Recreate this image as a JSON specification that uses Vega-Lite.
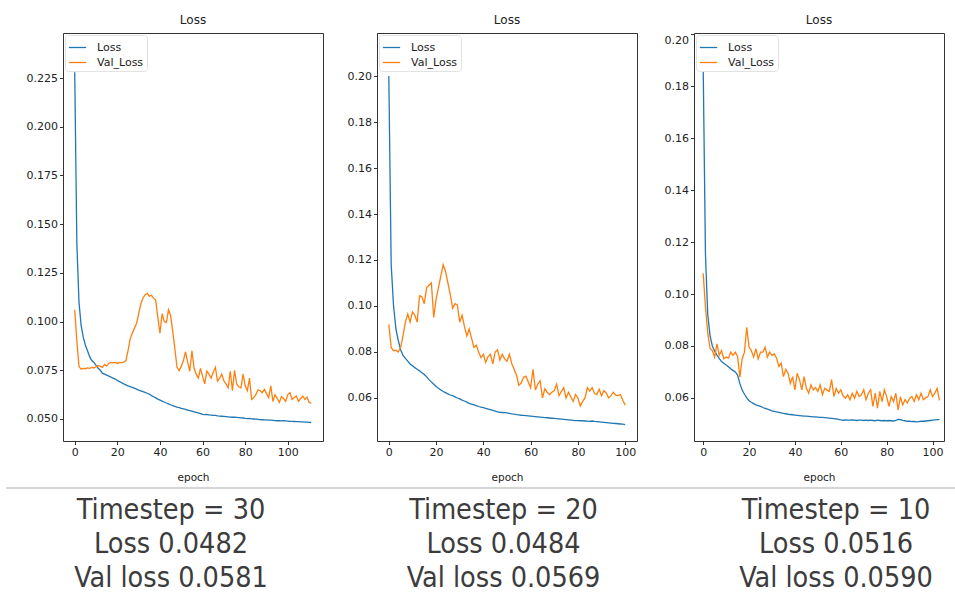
{
"$schema": "https://vega.github.io/schema/vega-lite/v6.json",
"padding": {"left": 0, "top": 13, "right": 0, "bottom": 0},
"background": "white",
"config": {
  "font": "DejaVu Sans",
  "view": {"stroke": "#333", "strokeWidth": 1},
  "title": {"fontSize": 12, "fontWeight": "normal", "color": "#222", "offset": 6},
  "axis": {"grid": false, "domain": false, "ticks": true, "tickSize": 3.5, "tickColor": "#333", "labelFontSize": 11, "labelColor": "#222", "labelPadding": 2, "titleFontSize": 10.5, "titleFontWeight": "normal", "titleColor": "#222"},
  "legend": {"orient": "top-left", "offset": 2, "padding": 3, "strokeColor": "#e2e2e2", "cornerRadius": 3, "fillColor": "white", "symbolType": "stroke", "symbolSize": 300, "symbolStrokeWidth": 1.5, "labelFontSize": 11, "labelColor": "#222", "rowPadding": 0, "labelOffset": 10},
  "line": {"strokeWidth": 1.3}
},
"datasets": {
"t30": [
{"e":0,"Loss":0.228,"Val_Loss":0.106},{"e":1,"Loss":0.140,"Val_Loss":0.090},{"e":2,"Loss":0.110,"Val_Loss":0.077},{"e":3,"Loss":0.098,"Val_Loss":0.0755},{"e":4,"Loss":0.092,"Val_Loss":0.076},{"e":5,"Loss":0.088,"Val_Loss":0.0758},{"e":6,"Loss":0.085,"Val_Loss":0.0762},{"e":7,"Loss":0.082,"Val_Loss":0.076},{"e":8,"Loss":0.080,"Val_Loss":0.0765},{"e":9,"Loss":0.079,"Val_Loss":0.0762},
{"e":10,"Loss":0.0775,"Val_Loss":0.0768},{"e":11,"Loss":0.076,"Val_Loss":0.0775},{"e":12,"Loss":0.075,"Val_Loss":0.077},{"e":13,"Loss":0.0735,"Val_Loss":0.0765},{"e":14,"Loss":0.073,"Val_Loss":0.078},{"e":15,"Loss":0.0725,"Val_Loss":0.0772},{"e":16,"Loss":0.072,"Val_Loss":0.0785},{"e":17,"Loss":0.0715,"Val_Loss":0.079},{"e":18,"Loss":0.071,"Val_Loss":0.0788},{"e":19,"Loss":0.0705,"Val_Loss":0.079},
{"e":20,"Loss":0.0698,"Val_Loss":0.0785},{"e":21,"Loss":0.0692,"Val_Loss":0.079},{"e":22,"Loss":0.0686,"Val_Loss":0.0788},{"e":23,"Loss":0.068,"Val_Loss":0.0792},{"e":24,"Loss":0.0675,"Val_Loss":0.080},{"e":25,"Loss":0.067,"Val_Loss":0.085},{"e":26,"Loss":0.0666,"Val_Loss":0.091},{"e":27,"Loss":0.0662,"Val_Loss":0.094},{"e":28,"Loss":0.0658,"Val_Loss":0.0965},{"e":29,"Loss":0.0653,"Val_Loss":0.099},
{"e":30,"Loss":0.0648,"Val_Loss":0.104},{"e":31,"Loss":0.0644,"Val_Loss":0.109},{"e":32,"Loss":0.064,"Val_Loss":0.112},{"e":33,"Loss":0.0636,"Val_Loss":0.1138},{"e":34,"Loss":0.0632,"Val_Loss":0.1145},{"e":35,"Loss":0.0628,"Val_Loss":0.113},{"e":36,"Loss":0.062,"Val_Loss":0.1135},{"e":37,"Loss":0.0614,"Val_Loss":0.112},{"e":38,"Loss":0.0608,"Val_Loss":0.111},{"e":39,"Loss":0.0602,"Val_Loss":0.102},
{"e":40,"Loss":0.0597,"Val_Loss":0.094},{"e":41,"Loss":0.0592,"Val_Loss":0.104},{"e":42,"Loss":0.0587,"Val_Loss":0.100},{"e":43,"Loss":0.0582,"Val_Loss":0.0995},{"e":44,"Loss":0.0578,"Val_Loss":0.106},{"e":45,"Loss":0.0573,"Val_Loss":0.103},{"e":46,"Loss":0.0569,"Val_Loss":0.095},{"e":47,"Loss":0.0565,"Val_Loss":0.086},{"e":48,"Loss":0.0561,"Val_Loss":0.0765},{"e":49,"Loss":0.0558,"Val_Loss":0.0748},
{"e":50,"Loss":0.0555,"Val_Loss":0.077},{"e":51,"Loss":0.0552,"Val_Loss":0.080},{"e":52,"Loss":0.0549,"Val_Loss":0.0845},{"e":53,"Loss":0.0546,"Val_Loss":0.079},{"e":54,"Loss":0.0543,"Val_Loss":0.0745},{"e":55,"Loss":0.054,"Val_Loss":0.085},{"e":56,"Loss":0.0537,"Val_Loss":0.076},{"e":57,"Loss":0.0534,"Val_Loss":0.073},{"e":58,"Loss":0.0531,"Val_Loss":0.071},{"e":59,"Loss":0.0528,"Val_Loss":0.076},
{"e":60,"Loss":0.0524,"Val_Loss":0.072},{"e":61,"Loss":0.0522,"Val_Loss":0.068},{"e":62,"Loss":0.0523,"Val_Loss":0.0745},{"e":63,"Loss":0.0521,"Val_Loss":0.073},{"e":64,"Loss":0.052,"Val_Loss":0.071},{"e":65,"Loss":0.0519,"Val_Loss":0.074},{"e":66,"Loss":0.0518,"Val_Loss":0.0765},{"e":67,"Loss":0.0516,"Val_Loss":0.0695},{"e":68,"Loss":0.0515,"Val_Loss":0.071},{"e":69,"Loss":0.0514,"Val_Loss":0.073},
{"e":70,"Loss":0.0513,"Val_Loss":0.0695},{"e":71,"Loss":0.0512,"Val_Loss":0.068},{"e":72,"Loss":0.0511,"Val_Loss":0.066},{"e":73,"Loss":0.051,"Val_Loss":0.0745},{"e":74,"Loss":0.0509,"Val_Loss":0.0645},{"e":75,"Loss":0.0509,"Val_Loss":0.075},{"e":76,"Loss":0.0508,"Val_Loss":0.068},{"e":77,"Loss":0.0507,"Val_Loss":0.0665},{"e":78,"Loss":0.0506,"Val_Loss":0.066},{"e":79,"Loss":0.0505,"Val_Loss":0.073},
{"e":80,"Loss":0.0503,"Val_Loss":0.067},{"e":81,"Loss":0.0502,"Val_Loss":0.0645},{"e":82,"Loss":0.0503,"Val_Loss":0.071},{"e":83,"Loss":0.0501,"Val_Loss":0.060},{"e":84,"Loss":0.05,"Val_Loss":0.061},{"e":85,"Loss":0.0499,"Val_Loss":0.0625},{"e":86,"Loss":0.0498,"Val_Loss":0.065},{"e":87,"Loss":0.0497,"Val_Loss":0.0645},{"e":88,"Loss":0.0496,"Val_Loss":0.0635},{"e":89,"Loss":0.0495,"Val_Loss":0.0652},
{"e":90,"Loss":0.0495,"Val_Loss":0.063},{"e":91,"Loss":0.0494,"Val_Loss":0.061},{"e":92,"Loss":0.0494,"Val_Loss":0.067},{"e":93,"Loss":0.0493,"Val_Loss":0.059},{"e":94,"Loss":0.0492,"Val_Loss":0.0625},{"e":95,"Loss":0.0491,"Val_Loss":0.0605},{"e":96,"Loss":0.0491,"Val_Loss":0.0585},{"e":97,"Loss":0.049,"Val_Loss":0.0615},{"e":98,"Loss":0.0491,"Val_Loss":0.0605},{"e":99,"Loss":0.049,"Val_Loss":0.059},
{"e":100,"Loss":0.0489,"Val_Loss":0.0625},{"e":101,"Loss":0.0488,"Val_Loss":0.0635},{"e":102,"Loss":0.0488,"Val_Loss":0.060},{"e":103,"Loss":0.0487,"Val_Loss":0.061},{"e":104,"Loss":0.0486,"Val_Loss":0.0618},{"e":105,"Loss":0.0486,"Val_Loss":0.059},{"e":106,"Loss":0.0485,"Val_Loss":0.0605},{"e":107,"Loss":0.0485,"Val_Loss":0.0618},{"e":108,"Loss":0.0484,"Val_Loss":0.060},{"e":109,"Loss":0.0484,"Val_Loss":0.0612},
{"e":110,"Loss":0.0483,"Val_Loss":0.0585},{"e":111,"Loss":0.0482,"Val_Loss":0.0581}
],
"t20": [
{"e":0,"Loss":0.200,"Val_Loss":0.092},{"e":1,"Loss":0.118,"Val_Loss":0.082},{"e":2,"Loss":0.100,"Val_Loss":0.0805},{"e":3,"Loss":0.090,"Val_Loss":0.0808},{"e":4,"Loss":0.085,"Val_Loss":0.080},{"e":5,"Loss":0.081,"Val_Loss":0.082},{"e":6,"Loss":0.0785,"Val_Loss":0.087},{"e":7,"Loss":0.0772,"Val_Loss":0.093},{"e":8,"Loss":0.076,"Val_Loss":0.0965},{"e":9,"Loss":0.0748,"Val_Loss":0.093},
{"e":10,"Loss":0.074,"Val_Loss":0.0975},{"e":11,"Loss":0.0732,"Val_Loss":0.096},{"e":12,"Loss":0.0725,"Val_Loss":0.093},{"e":13,"Loss":0.0718,"Val_Loss":0.1045},{"e":14,"Loss":0.071,"Val_Loss":0.104},{"e":15,"Loss":0.0702,"Val_Loss":0.101},{"e":16,"Loss":0.0692,"Val_Loss":0.108},{"e":17,"Loss":0.068,"Val_Loss":0.109},{"e":18,"Loss":0.067,"Val_Loss":0.110},{"e":19,"Loss":0.066,"Val_Loss":0.095},
{"e":20,"Loss":0.065,"Val_Loss":0.103},{"e":21,"Loss":0.0642,"Val_Loss":0.108},{"e":22,"Loss":0.0635,"Val_Loss":0.113},{"e":23,"Loss":0.0628,"Val_Loss":0.118},{"e":24,"Loss":0.0623,"Val_Loss":0.115},{"e":25,"Loss":0.0618,"Val_Loss":0.110},{"e":26,"Loss":0.0613,"Val_Loss":0.105},{"e":27,"Loss":0.061,"Val_Loss":0.099},{"e":28,"Loss":0.0605,"Val_Loss":0.101},{"e":29,"Loss":0.06,"Val_Loss":0.1005},
{"e":30,"Loss":0.0596,"Val_Loss":0.093},{"e":31,"Loss":0.0591,"Val_Loss":0.096},{"e":32,"Loss":0.0587,"Val_Loss":0.091},{"e":33,"Loss":0.0582,"Val_Loss":0.087},{"e":34,"Loss":0.0577,"Val_Loss":0.090},{"e":35,"Loss":0.0573,"Val_Loss":0.086},{"e":36,"Loss":0.057,"Val_Loss":0.082},{"e":37,"Loss":0.0567,"Val_Loss":0.083},{"e":38,"Loss":0.0563,"Val_Loss":0.080},{"e":39,"Loss":0.056,"Val_Loss":0.0775},
{"e":40,"Loss":0.0558,"Val_Loss":0.079},{"e":41,"Loss":0.0555,"Val_Loss":0.0755},{"e":42,"Loss":0.0552,"Val_Loss":0.078},{"e":43,"Loss":0.0549,"Val_Loss":0.079},{"e":44,"Loss":0.0546,"Val_Loss":0.0748},{"e":45,"Loss":0.0543,"Val_Loss":0.080},{"e":46,"Loss":0.054,"Val_Loss":0.081},{"e":47,"Loss":0.0538,"Val_Loss":0.0765},{"e":48,"Loss":0.0537,"Val_Loss":0.079},{"e":49,"Loss":0.0536,"Val_Loss":0.077},
{"e":50,"Loss":0.0535,"Val_Loss":0.076},{"e":51,"Loss":0.0533,"Val_Loss":0.079},{"e":52,"Loss":0.0531,"Val_Loss":0.075},{"e":53,"Loss":0.053,"Val_Loss":0.0725},{"e":54,"Loss":0.0528,"Val_Loss":0.070},{"e":55,"Loss":0.0527,"Val_Loss":0.0655},{"e":56,"Loss":0.0525,"Val_Loss":0.0665},{"e":57,"Loss":0.0524,"Val_Loss":0.069},{"e":58,"Loss":0.0523,"Val_Loss":0.0695},{"e":59,"Loss":0.0522,"Val_Loss":0.067},
{"e":60,"Loss":0.0521,"Val_Loss":0.0645},{"e":61,"Loss":0.052,"Val_Loss":0.0725},{"e":62,"Loss":0.0519,"Val_Loss":0.0635},{"e":63,"Loss":0.0518,"Val_Loss":0.066},{"e":64,"Loss":0.0517,"Val_Loss":0.0675},{"e":65,"Loss":0.0516,"Val_Loss":0.060},{"e":66,"Loss":0.0515,"Val_Loss":0.064},{"e":67,"Loss":0.0514,"Val_Loss":0.0625},{"e":68,"Loss":0.0513,"Val_Loss":0.0615},{"e":69,"Loss":0.0512,"Val_Loss":0.0625},
{"e":70,"Loss":0.0511,"Val_Loss":0.0632},{"e":71,"Loss":0.051,"Val_Loss":0.066},{"e":72,"Loss":0.0509,"Val_Loss":0.061},{"e":73,"Loss":0.0508,"Val_Loss":0.0628},{"e":74,"Loss":0.0507,"Val_Loss":0.0645},{"e":75,"Loss":0.0506,"Val_Loss":0.060},{"e":76,"Loss":0.0505,"Val_Loss":0.0625},{"e":77,"Loss":0.0504,"Val_Loss":0.0605},{"e":78,"Loss":0.0503,"Val_Loss":0.0585},{"e":79,"Loss":0.0502,"Val_Loss":0.0615},
{"e":80,"Loss":0.0502,"Val_Loss":0.060},{"e":81,"Loss":0.0501,"Val_Loss":0.0565},{"e":82,"Loss":0.0501,"Val_Loss":0.0585},{"e":83,"Loss":0.05,"Val_Loss":0.060},{"e":84,"Loss":0.0499,"Val_Loss":0.0645},{"e":85,"Loss":0.0498,"Val_Loss":0.063},{"e":86,"Loss":0.05,"Val_Loss":0.0645},{"e":87,"Loss":0.0498,"Val_Loss":0.062},{"e":88,"Loss":0.0497,"Val_Loss":0.0615},{"e":89,"Loss":0.0496,"Val_Loss":0.0638},
{"e":90,"Loss":0.0495,"Val_Loss":0.061},{"e":91,"Loss":0.0494,"Val_Loss":0.0632},{"e":92,"Loss":0.0493,"Val_Loss":0.0622},{"e":93,"Loss":0.0492,"Val_Loss":0.060},{"e":94,"Loss":0.0491,"Val_Loss":0.061},{"e":95,"Loss":0.049,"Val_Loss":0.0625},{"e":96,"Loss":0.0489,"Val_Loss":0.0612},{"e":97,"Loss":0.0488,"Val_Loss":0.061},{"e":98,"Loss":0.0487,"Val_Loss":0.0615},{"e":99,"Loss":0.0486,"Val_Loss":0.059},
{"e":100,"Loss":0.0484,"Val_Loss":0.0569}
],
"t10": [
{"e":0,"Loss":0.188,"Val_Loss":0.108},{"e":1,"Loss":0.115,"Val_Loss":0.095},{"e":2,"Loss":0.092,"Val_Loss":0.085},{"e":3,"Loss":0.084,"Val_Loss":0.079},{"e":4,"Loss":0.080,"Val_Loss":0.0782},{"e":5,"Loss":0.078,"Val_Loss":0.0757},{"e":6,"Loss":0.0765,"Val_Loss":0.0808},{"e":7,"Loss":0.0752,"Val_Loss":0.0764},{"e":8,"Loss":0.074,"Val_Loss":0.0782},{"e":9,"Loss":0.0733,"Val_Loss":0.075},
{"e":10,"Loss":0.0727,"Val_Loss":0.0757},{"e":11,"Loss":0.072,"Val_Loss":0.0753},{"e":12,"Loss":0.0712,"Val_Loss":0.0776},{"e":13,"Loss":0.0706,"Val_Loss":0.0764},{"e":14,"Loss":0.070,"Val_Loss":0.0776},{"e":15,"Loss":0.0688,"Val_Loss":0.076},{"e":16,"Loss":0.0655,"Val_Loss":0.068},{"e":17,"Loss":0.063,"Val_Loss":0.075},{"e":18,"Loss":0.0614,"Val_Loss":0.0776},{"e":19,"Loss":0.060,"Val_Loss":0.0872},
{"e":20,"Loss":0.0589,"Val_Loss":0.0795},{"e":21,"Loss":0.0583,"Val_Loss":0.0782},{"e":22,"Loss":0.0578,"Val_Loss":0.0757},{"e":23,"Loss":0.0573,"Val_Loss":0.0789},{"e":24,"Loss":0.057,"Val_Loss":0.075},{"e":25,"Loss":0.0567,"Val_Loss":0.0776},{"e":26,"Loss":0.0563,"Val_Loss":0.0776},{"e":27,"Loss":0.056,"Val_Loss":0.0795},{"e":28,"Loss":0.0557,"Val_Loss":0.0757},{"e":29,"Loss":0.0554,"Val_Loss":0.0776},
{"e":30,"Loss":0.055,"Val_Loss":0.0763},{"e":31,"Loss":0.0548,"Val_Loss":0.077},{"e":32,"Loss":0.0546,"Val_Loss":0.0753},{"e":33,"Loss":0.0544,"Val_Loss":0.0721},{"e":34,"Loss":0.0542,"Val_Loss":0.0734},{"e":35,"Loss":0.054,"Val_Loss":0.0682},{"e":36,"Loss":0.0539,"Val_Loss":0.071},{"e":37,"Loss":0.0537,"Val_Loss":0.0695},{"e":38,"Loss":0.0536,"Val_Loss":0.0656},{"e":39,"Loss":0.0535,"Val_Loss":0.0682},
{"e":40,"Loss":0.0534,"Val_Loss":0.0631},{"e":41,"Loss":0.0533,"Val_Loss":0.0695},{"e":42,"Loss":0.0532,"Val_Loss":0.067},{"e":43,"Loss":0.0531,"Val_Loss":0.0631},{"e":44,"Loss":0.053,"Val_Loss":0.0682},{"e":45,"Loss":0.053,"Val_Loss":0.0637},{"e":46,"Loss":0.0529,"Val_Loss":0.0618},{"e":47,"Loss":0.0528,"Val_Loss":0.065},{"e":48,"Loss":0.0527,"Val_Loss":0.0631},{"e":49,"Loss":0.0527,"Val_Loss":0.064},
{"e":50,"Loss":0.0526,"Val_Loss":0.0625},{"e":51,"Loss":0.0525,"Val_Loss":0.065},{"e":52,"Loss":0.0525,"Val_Loss":0.0612},{"e":53,"Loss":0.0524,"Val_Loss":0.0637},{"e":54,"Loss":0.0523,"Val_Loss":0.063},{"e":55,"Loss":0.0522,"Val_Loss":0.0625},{"e":56,"Loss":0.0521,"Val_Loss":0.067},{"e":57,"Loss":0.052,"Val_Loss":0.0605},{"e":58,"Loss":0.0519,"Val_Loss":0.0637},{"e":59,"Loss":0.0517,"Val_Loss":0.0618},
{"e":60,"Loss":0.0515,"Val_Loss":0.0631},{"e":61,"Loss":0.0514,"Val_Loss":0.0608},{"e":62,"Loss":0.0515,"Val_Loss":0.0599},{"e":63,"Loss":0.0514,"Val_Loss":0.0612},{"e":64,"Loss":0.0514,"Val_Loss":0.0593},{"e":65,"Loss":0.0515,"Val_Loss":0.0618},{"e":66,"Loss":0.0514,"Val_Loss":0.0599},{"e":67,"Loss":0.0513,"Val_Loss":0.0625},{"e":68,"Loss":0.0514,"Val_Loss":0.0605},{"e":69,"Loss":0.0514,"Val_Loss":0.0612},
{"e":70,"Loss":0.0513,"Val_Loss":0.0631},{"e":71,"Loss":0.0514,"Val_Loss":0.0593},{"e":72,"Loss":0.0513,"Val_Loss":0.0618},{"e":73,"Loss":0.0514,"Val_Loss":0.0631},{"e":74,"Loss":0.0513,"Val_Loss":0.0567},{"e":75,"Loss":0.0512,"Val_Loss":0.0618},{"e":76,"Loss":0.0514,"Val_Loss":0.056},{"e":77,"Loss":0.0513,"Val_Loss":0.0625},{"e":78,"Loss":0.0512,"Val_Loss":0.0586},{"e":79,"Loss":0.0513,"Val_Loss":0.0631},
{"e":80,"Loss":0.0512,"Val_Loss":0.0605},{"e":81,"Loss":0.0513,"Val_Loss":0.0567},{"e":82,"Loss":0.0512,"Val_Loss":0.0605},{"e":83,"Loss":0.0511,"Val_Loss":0.0586},{"e":84,"Loss":0.0513,"Val_Loss":0.0618},{"e":85,"Loss":0.0517,"Val_Loss":0.0554},{"e":86,"Loss":0.0516,"Val_Loss":0.0605},{"e":87,"Loss":0.0513,"Val_Loss":0.0573},{"e":88,"Loss":0.0512,"Val_Loss":0.0593},{"e":89,"Loss":0.051,"Val_Loss":0.058},
{"e":90,"Loss":0.051,"Val_Loss":0.0598},{"e":91,"Loss":0.0509,"Val_Loss":0.0605},{"e":92,"Loss":0.0509,"Val_Loss":0.0586},{"e":93,"Loss":0.0508,"Val_Loss":0.0612},{"e":94,"Loss":0.0509,"Val_Loss":0.0593},{"e":95,"Loss":0.051,"Val_Loss":0.0618},{"e":96,"Loss":0.051,"Val_Loss":0.0593},{"e":97,"Loss":0.0511,"Val_Loss":0.06},{"e":98,"Loss":0.0512,"Val_Loss":0.0605},{"e":99,"Loss":0.0513,"Val_Loss":0.0631},
{"e":100,"Loss":0.0514,"Val_Loss":0.0605},{"e":101,"Loss":0.0515,"Val_Loss":0.0618},{"e":102,"Loss":0.0516,"Val_Loss":0.0637},{"e":103,"Loss":0.0516,"Val_Loss":0.059}
],
"notes": [
{"col":1,"line":1,"text":"Timestep = 30"},{"col":1,"line":2,"text":"Loss 0.0482"},{"col":1,"line":3,"text":"Val loss 0.0581"},
{"col":2,"line":1,"text":"Timestep = 20"},{"col":2,"line":2,"text":"Loss 0.0484"},{"col":2,"line":3,"text":"Val loss 0.0569"},
{"col":3,"line":1,"text":"Timestep = 10"},{"col":3,"line":2,"text":"Loss 0.0516"},{"col":3,"line":3,"text":"Val loss 0.0590"}
],
"divider": [
{"from": 0.504, "to": 3.361, "at": 0.3529}
]
},
"vconcat": [
{
  "hconcat": [
    {
      "width": 260, "height": 408, "title": "Loss",
      "data": {"name": "t30"},
      "transform": [{"fold": ["Loss", "Val_Loss"], "as": ["series", "value"]}],
      "mark": {"type": "line"},
      "encoding": {
        "x": {"field": "e", "type": "quantitative", "scale": {"domain": [-5.5, 116.5], "nice": false, "zero": false}, "axis": {"title": "epoch", "values": [0, 20, 40, 60, 80, 100], "titlePadding": 15}},
        "y": {"field": "value", "type": "quantitative", "scale": {"domain": [0.0387, 0.2481], "nice": false, "zero": false}, "axis": {"title": null, "values": [0.05, 0.075, 0.1, 0.125, 0.15, 0.175, 0.2, 0.225], "format": ".3f", "minExtent": 62}},
        "color": {"field": "series", "type": "nominal", "scale": {"domain": ["Loss", "Val_Loss"], "range": ["#1f77b4", "#ff7f0e"]}, "legend": {"title": null}}
      }
    },
    {
      "width": 260, "height": 408, "title": "Loss",
      "data": {"name": "t20"},
      "transform": [{"fold": ["Loss", "Val_Loss"], "as": ["series", "value"]}],
      "mark": {"type": "line"},
      "encoding": {
        "x": {"field": "e", "type": "quantitative", "scale": {"domain": [-5, 105], "nice": false, "zero": false}, "axis": {"title": "epoch", "values": [0, 20, 40, 60, 80, 100], "titlePadding": 15}},
        "y": {"field": "value", "type": "quantitative", "scale": {"domain": [0.0413, 0.2187], "nice": false, "zero": false}, "axis": {"title": null, "values": [0.06, 0.08, 0.1, 0.12, 0.14, 0.16, 0.18, 0.2], "format": ".2f", "minExtent": 42}},
        "color": {"field": "series", "type": "nominal", "scale": {"domain": ["Loss", "Val_Loss"], "range": ["#1f77b4", "#ff7f0e"]}, "legend": {"title": null}}
      }
    },
    {
      "width": 250, "height": 408, "title": "Loss",
      "data": {"name": "t10"},
      "transform": [{"fold": ["Loss", "Val_Loss"], "as": ["series", "value"]}],
      "mark": {"type": "line"},
      "encoding": {
        "x": {"field": "e", "type": "quantitative", "scale": {"domain": [-4, 105], "nice": false, "zero": false}, "axis": {"title": "epoch", "values": [0, 20, 40, 60, 80, 100], "titlePadding": 15}},
        "y": {"field": "value", "type": "quantitative", "scale": {"domain": [0.0434, 0.2005], "nice": false, "zero": false}, "axis": {"title": null, "values": [0.06, 0.08, 0.1, 0.12, 0.14, 0.16, 0.18, 0.2], "format": ".2f", "minExtent": 45, "labelFlush": 3}},
        "color": {"field": "series", "type": "nominal", "scale": {"domain": ["Loss", "Val_Loss"], "range": ["#1f77b4", "#ff7f0e"]}, "legend": {"title": null}}
      }
    }
  ],
  "spacing": 10,
  "resolve": {"scale": {"x": "independent", "y": "independent", "color": "independent"}, "legend": {"color": "independent"}}
},
{
  "width": 893, "height": 104,
  "view": {"stroke": null},
  "layer": [
    {
      "data": {"name": "divider"},
      "mark": {"type": "rule", "color": "#aaa", "strokeWidth": 1},
      "encoding": {
        "x": {"field": "from", "type": "quantitative", "scale": {"domain": [0.6752, 3.3609], "nice": false, "zero": false}, "axis": null},
        "x2": {"field": "to"},
        "y": {"field": "at", "type": "quantitative", "scale": {"domain": [0.3529, 3.4117], "reverse": true, "nice": false, "zero": false}, "axis": null}
      }
    },
    {
      "data": {"name": "notes"},
      "mark": {"type": "text", "font": "DejaVu Sans Condensed, Liberation Sans Narrow, sans-serif", "fontSize": 28.5, "color": "#3c3c3c", "baseline": "middle", "align": "center"},
      "encoding": {
        "x": {"field": "col", "type": "quantitative", "scale": {"domain": [0.6752, 3.3609], "nice": false, "zero": false}, "axis": null},
        "y": {"field": "line", "type": "quantitative", "scale": {"domain": [0.3529, 3.4117], "reverse": true, "nice": false, "zero": false}, "axis": null},
        "text": {"field": "text"}
      }
    }
  ]
}
],
"spacing": 3
}
